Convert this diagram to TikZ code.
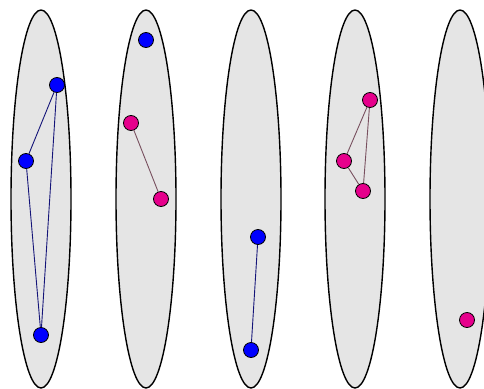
\documentclass[tikz,border=0pt]{standalone}
\usetikzlibrary{shapes.geometric}
\definecolor{vblue}{RGB}{0,0,255}
\definecolor{vmag}{RGB}{230,0,140}
\definecolor{eblue}{RGB}{20,20,120}
\definecolor{emag}{RGB}{120,80,95}
\definecolor{egray}{RGB}{229,229,229}
\begin{document}
\begin{tikzpicture}[x=1pt,y=-1pt,
  group/.style={ellipse,draw=black,fill=egray,line width=1.4pt,minimum width=60pt,minimum height=378pt,inner sep=0pt},
  bv/.style={circle,draw=black,fill=vblue,minimum size=15pt,inner sep=0pt,line width=0.8pt},
  mv/.style={circle,draw=black,fill=vmag,minimum size=15pt,inner sep=0pt,line width=0.8pt},
  be/.style={draw=eblue,line width=0.9pt},
  me/.style={draw=emag,line width=0.9pt}]
\useasboundingbox (0,0) rectangle (484,388);
\node[group] (g1) at (41,199) {};
\node[group] (g2) at (146,199) {};
\node[group] (g3) at (251,199) {};
\node[group] (g4) at (355,199) {};
\node[group] (g5) at (460,199) {};
% group 1
\node[bv] (a1) at (57,85) {};
\node[bv] (a2) at (26,161) {};
\node[bv] (a3) at (41,335) {};
% group 2
\node[bv] (b1) at (146,40) {};
\node[mv] (b2) at (131,123) {};
\node[mv] (b3) at (161,199) {};
% group 3
\node[bv] (c1) at (258,237) {};
\node[bv] (c2) at (251,350) {};
% group 4
\node[mv] (d1) at (370,100) {};
\node[mv] (d2) at (344,161) {};
\node[mv] (d3) at (363,191) {};
% group 5
\node[mv] (e1) at (467,320) {};
\draw[be] (a1) -- (a2);
\draw[be] (a1) -- (a3);
\draw[be] (a2) -- (a3);
\draw[me] (b2) -- (b3);
\draw[be] (c1) -- (c2);
\draw[me] (d1) -- (d2);
\draw[me] (d1) -- (d3);
\draw[me] (d2) -- (d3);
\end{tikzpicture}
\end{document}
